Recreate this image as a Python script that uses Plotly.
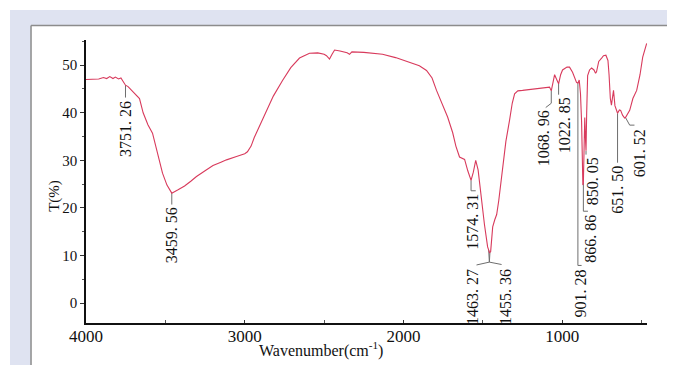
import numpy as np
import plotly.graph_objects as go

# ---------------- data ----------------
WAVENUMBER = [
    4000, 3960, 3920, 3890, 3870, 3850, 3830, 3815, 3795, 3780, 3765, 3751.26, 3735,
    3710, 3690, 3663, 3640, 3610, 3581, 3550, 3518, 3490, 3459.56, 3420, 3379, 3340,
    3304, 3250, 3200, 3150, 3115, 3052, 3000, 2983, 2960, 2940, 2900, 2863, 2820,
    2762, 2710, 2655, 2592, 2540, 2500, 2485, 2466, 2450, 2434, 2400, 2384, 2355,
    2340, 2325, 2250, 2132, 2050, 1962, 1900, 1855, 1820, 1792, 1760, 1722, 1690,
    1670, 1647, 1630, 1615, 1595, 1574.31, 1560, 1545, 1530, 1508, 1490, 1470, 1458,
    1451, 1445, 1438, 1425, 1413, 1400, 1376, 1355, 1332, 1315, 1300, 1280, 1250,
    1200, 1150, 1100, 1080, 1068.96, 1060, 1048, 1035, 1022.85, 1010, 998, 970, 954,
    935, 922, 910, 901.28, 893, 885, 878, 870, 866.86, 862, 858, 853, 850.05, 846,
    840, 828, 815, 800, 790, 784, 770, 752, 740, 725, 712, 705, 697, 690, 684, 677,
    668, 660, 651.50, 640, 632, 620, 607, 601.52, 590, 575, 555, 531, 510, 493, 468,
]
TRANSMITTANCE = [
    47.0, 47.0, 47.1, 47.4, 47.2, 47.6, 47.2, 47.5, 47.1, 47.3, 46.6, 45.8, 45.5,
    44.6, 44.0, 43.0, 40.0, 37.5, 35.7, 31.5, 27.3, 24.8, 23.1, 23.8, 24.6, 25.6,
    26.6, 27.8, 28.9, 29.6, 30.1, 30.8, 31.4, 31.8, 33.0, 34.8, 37.8, 40.5, 43.5,
    46.8, 49.5, 51.5, 52.5, 52.6, 52.3, 52.0, 51.3, 52.3, 53.2, 53.0, 52.9, 52.6,
    52.3, 52.8, 52.7, 52.3, 51.6, 50.6, 49.9, 48.9, 47.3, 44.7, 42.0, 39.1, 35.8,
    33.0, 30.7, 30.4, 30.2, 27.8, 25.8, 27.5, 30.0, 28.0, 21.0, 16.5, 11.8, 10.6,
    10.8, 13.5, 16.0, 17.5, 18.6, 21.5, 28.0, 34.0, 38.4, 42.0, 44.0, 44.6, 44.7,
    44.9, 45.0, 45.3, 45.4, 44.6, 46.0, 48.0, 47.0, 46.1, 48.0, 49.0, 49.6, 49.6,
    48.5, 47.5, 46.4, 46.2, 46.9, 44.0, 38.0, 24.8, 25.2, 33.0, 39.0, 34.0, 32.0, 40.0,
    47.8, 49.0, 49.4, 49.0, 48.3, 48.6, 50.8, 51.5, 52.0, 52.1, 51.0, 48.0, 43.0, 41.6,
    42.8, 44.7, 41.5, 40.6, 39.9, 40.6, 40.5, 39.5, 38.9, 39.0, 39.6, 40.5, 43.0, 44.7,
    48.0, 51.7, 54.6,
]

PEAK_WN = [3751.26, 3459.56, 1574.31, 1463.27, 1455.36, 1068.96, 1022.85,
           901.28, 866.86, 850.05, 651.50, 601.52]

X_TICKS = [4000, 3000, 2000, 1000]
Y_TICKS = [0, 10, 20, 30, 40, 50]

# label placement: (text x, text top y, leader waypoints after the curve anchor)
LABEL_LAYOUT = [
    (3751.26, 43.0, [(3751.26, 43.2)]),
    (3459.56, 20.5, [(3459.56, 20.7)]),
    (1565, 23.3, [(1574.31, 23.6), (1545, 23.6)]),
    (1565, 7.5, [(1459, 8.6), (1540, 8.0)]),
    (1357, 7.5, [(1459, 8.6), (1382, 8.1)]),
    (1117, 40.9, [(1068.96, 42.0), (1104, 41.1)]),
    (985, 43.6, [(1022.85, 43.8)]),
    (887, 7.5, [(901.28, 7.9), (878, 7.9)]),
    (827, 18.9, [(866.86, 19.3), (838, 19.3)]),
    (808, 31.0, [(850.05, 31.2)]),
    (654, 29.3, [(651.50, 29.5)]),
    (512, 36.9, [(575, 37.4), (545, 37.4)]),
]

FONT = "Liberation Serif"
CURVE_COLOR = "#d83a5c"
LEADER_COLOR = "#6e6e6e"

wn_arr = np.array(WAVENUMBER, dtype=float)
t_arr = np.array(TRANSMITTANCE, dtype=float)


def curve_at(w):
    return float(np.interp(w, wn_arr[::-1], t_arr[::-1]))


def fmt(v):
    return f"{v:.2f}".replace(".", ". ")


fig = go.Figure()

# leader lines
for pk, (tx, ty, pts) in zip(PEAK_WN, LABEL_LAYOUT):
    xs = [pk] + [p[0] for p in pts]
    ys = [curve_at(pk)] + [p[1] for p in pts]
    fig.add_trace(go.Scatter(x=xs, y=ys, mode="lines",
                             line=dict(color=LEADER_COLOR, width=1),
                             hoverinfo="skip", showlegend=False))

fig.add_trace(go.Scatter(x=WAVENUMBER, y=TRANSMITTANCE, mode="lines",
                         line=dict(color=CURVE_COLOR, width=1.1),
                         showlegend=False))

for pk, (tx, ty, pts) in zip(PEAK_WN, LABEL_LAYOUT):
    fig.add_annotation(x=tx, y=ty, xref="x", yref="y", text=fmt(pk),
                       textangle=-90, showarrow=False, xanchor="center",
                       yanchor="top", font=dict(family=FONT, size=16, color="#111"))

# axis titles
fig.add_annotation(x=-0.055, y=0.45, xref="paper", yref="paper", text="T(%)",
                   textangle=-90, showarrow=False, xanchor="center", yanchor="middle",
                   font=dict(family=FONT, size=15, color="#111"))
fig.add_annotation(x=0.419, y=-0.095, xref="paper", yref="paper",
                   text="Wavenumber(cm<sup>-1</sup>)", showarrow=False,
                   xanchor="center", yanchor="middle",
                   font=dict(family=FONT, size=16, color="#111"))

# background frame
shapes = [
    dict(type="rect", xref="paper", yref="paper", x0=-0.1355, x1=1.06,
         y0=-0.16, y1=1.106, fillcolor="#dfe3f1", line=dict(width=0), layer="below"),
    dict(type="rect", xref="paper", yref="paper", x0=-0.098, x1=1.06,
         y0=-0.16, y1=1.0512, fillcolor="white", line=dict(width=0), layer="below"),
    dict(type="line", xref="paper", yref="paper", x0=-0.098, x1=1.06,
         y0=1.0512, y1=1.0512, line=dict(color="#8c8c8c", width=1.5), layer="below"),
    dict(type="line", xref="paper", yref="paper", x0=-0.098, x1=-0.098,
         y0=1.0512, y1=-0.16, line=dict(color="#8c8c8c", width=1.5), layer="below"),
]

# the page body has an 8px margin, so the figure is 8px smaller and offsets reduced
fig.update_layout(
    width=667, height=357,
    margin=dict(l=78, r=28, t=32, b=42),
    paper_bgcolor="white",
    plot_bgcolor="rgba(0,0,0,0)",
    shapes=shapes,
    font=dict(family=FONT, color="#111"),
    xaxis=dict(range=[4000, 466], tickmode="array", tickvals=X_TICKS,
               ticktext=[str(v) for v in X_TICKS], showgrid=False, zeroline=False,
               showline=True, linecolor="#111", linewidth=2, mirror=False,
               ticks="inside", ticklen=3, tickcolor="#333", ticklabelstandoff=-3,
               minor=dict(dtick=500, ticks="inside", ticklen=3, tickcolor="#555"),
               tickfont=dict(family=FONT, size=17, color="#111")),
    yaxis=dict(range=[-4.2, 55.3], tickmode="array", tickvals=Y_TICKS,
               showgrid=False, zeroline=False, showline=True, linecolor="#111",
               linewidth=1.5, ticks="outside", ticklen=4, tickcolor="#333",
               minor=dict(dtick=5, ticks="outside", ticklen=2, tickcolor="#555"),
               tickfont=dict(family=FONT, size=15, color="#111")),
)

fig.write_html("out.html")
